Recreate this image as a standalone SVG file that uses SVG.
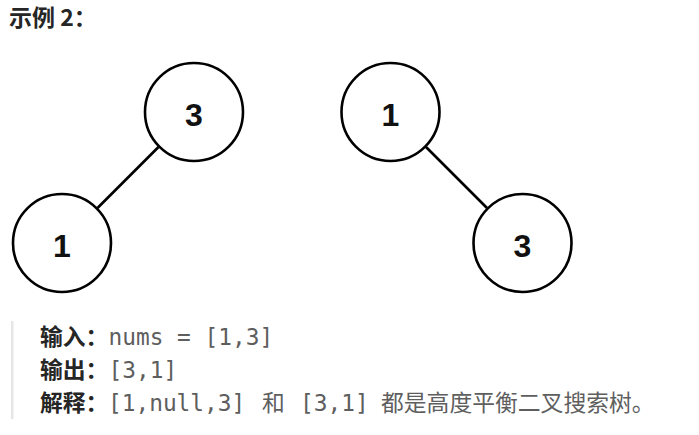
<svg xmlns="http://www.w3.org/2000/svg" width="699" height="435" viewBox="0 0 699 435">
<style>
.node circle{fill:#fff;stroke:#000;stroke-width:2.6}
.node text{font-family:"Liberation Sans",Arial,sans-serif;font-weight:bold;font-size:32px;fill:#111;text-anchor:middle}
.edge{stroke:#000;stroke-width:2.6;fill:none}
.title{font-family:"Noto Sans CJK SC","Noto Sans",sans-serif;font-weight:bold;font-size:23px;fill:#262626}
.pre{font-family:"DejaVu Sans Mono","Noto Sans CJK SC",monospace;font-size:22.8px;fill:#5e5e5e}
.lbl{font-family:"Noto Sans CJK SC",sans-serif;font-weight:bold;fill:#262626}
.cjk{font-family:"Noto Sans CJK SC",sans-serif}
</style>
<rect width="699" height="435" fill="#fff"/>
<text class="title" x="9" y="26">示例 2：</text>
<g id="connectors">
<line class="edge" x1="158.5" y1="147" x2="97.5" y2="208"/>
<line class="edge" x1="426" y1="147" x2="487" y2="208"/>
</g>
<g id="n3a" class="node"><circle cx="194" cy="112" r="49"/><text x="194" y="126">3</text></g>
<g id="n1a" class="node"><circle cx="62" cy="243" r="49"/><text x="62" y="257">1</text></g>
<g id="n1b" class="node"><circle cx="390.5" cy="112" r="49"/><text x="390.5" y="126">1</text></g>
<g id="n3b" class="node"><circle cx="522.5" cy="243" r="49"/><text x="522.5" y="257">3</text></g>
<rect x="11" y="321" width="2.5" height="98" fill="#e6e6e6"/>
<text class="pre" y="345"><tspan class="lbl" x="40">输入：</tspan><tspan x="108.5">nums = [1,3]</tspan></text>
<text class="pre" y="378"><tspan class="lbl" x="40">输出：</tspan><tspan x="108.5">[3,1]</tspan></text>
<text class="pre" y="411"><tspan class="lbl" x="40">解释：</tspan><tspan x="108">[1,null,3]</tspan><tspan class="cjk" x="262">和</tspan><tspan x="300">[3,1]</tspan><tspan class="cjk" x="381">都是高度平衡二叉搜索树。</tspan></text>
</svg>
